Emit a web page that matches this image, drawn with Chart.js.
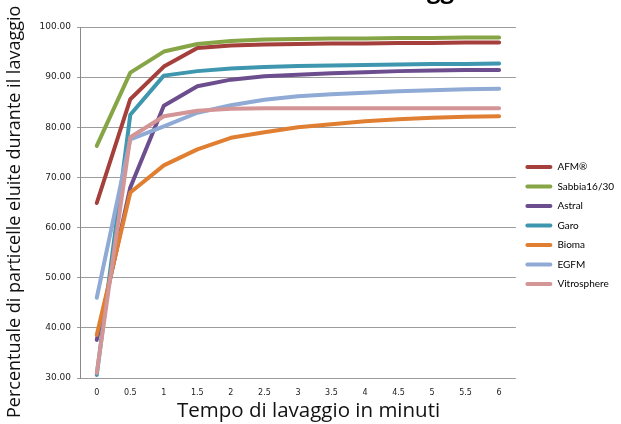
<!DOCTYPE html>
<html>
<head>
<meta charset="utf-8">
<script src="https://cdn.jsdelivr.net/npm/chart.js@4/dist/chart.umd.min.js"></script>
<style>
  html, body { margin: 0; padding: 0; background: #fff; }
  #wrap { width: 621px; height: 424px; position: relative; }
</style>
</head>
<body>
<div id="wrap"><canvas id="c" width="621" height="424"></canvas></div>
<script>
// Washing time (minutes)
const minutes = ['0', '0.5', '1', '1.5', '2', '2.5', '3', '3.5', '4', '4.5', '5', '5.5', '6'];

// Percentage of particles eluted, one array per filter medium
const afm         = [64.9, 85.6, 92.1, 95.8, 96.3, 96.5, 96.6, 96.7, 96.7, 96.8, 96.8, 96.9, 96.9];
const sabbia1630  = [76.3, 90.9, 95.1, 96.6, 97.2, 97.5, 97.6, 97.7, 97.7, 97.8, 97.8, 97.9, 97.9];
const astral      = [37.6, 68.0, 84.3, 88.2, 89.5, 90.2, 90.5, 90.8, 91.0, 91.2, 91.3, 91.4, 91.4];
const garo        = [30.6, 82.5, 90.3, 91.2, 91.7, 92.0, 92.2, 92.3, 92.4, 92.5, 92.6, 92.6, 92.7];
const bioma       = [38.6, 67.0, 72.4, 75.6, 77.9, 79.0, 80.0, 80.6, 81.2, 81.6, 81.9, 82.1, 82.2];
const egfm        = [46.0, 77.6, 80.2, 82.9, 84.4, 85.5, 86.2, 86.6, 86.9, 87.2, 87.4, 87.6, 87.7];
const vitrosphere = [31.0, 78.0, 82.2, 83.3, 83.7, 83.8, 83.8, 83.8, 83.8, 83.8, 83.8, 83.8, 83.8];

const seriesNames = ['AFM®', 'Sabbia16/30', 'Astral', 'Garo', 'Bioma', 'EGFM', 'Vitrosphere'];
const seriesData  = [afm, sabbia1630, astral, garo, bioma, egfm, vitrosphere];
const seriesColors = ['#A53F3C', '#86A546', '#6C4E8E', '#3E97AE', '#E07F31', '#8FAAD5', '#D49597'];

// y-axis tick range
const yMin = 30, yMax = 100, yStep = 10;

const titleText = 'Efficacia del controlavaggio';

// Chart title sits above the canvas top; only its descenders show
const topTitle = {
  id: 'topTitle',
  afterDraw(chart) {
    const ctx = chart.ctx;
    ctx.save();
    ctx.font = 'bold 24px "Open Sans", sans-serif';
    ctx.fillStyle = '#000';
    ctx.textBaseline = 'alphabetic';
    const pre = ctx.measureText('Efficacia del controlava').width;
    ctx.fillText(titleText, 427 - pre, -2);
    ctx.restore();
  }
};

const nb = '\u00A0';

new Chart(document.getElementById('c'), {
  type: 'line',
  data: {
    labels: minutes,
    datasets: seriesNames.map((name, i) => ({
      label: name,
      data: seriesData[i],
      borderColor: seriesColors[i],
      backgroundColor: seriesColors[i],
      borderWidth: 4,
      borderCapStyle: 'round',
      borderJoinStyle: 'round',
      pointRadius: 0,
      tension: 0,
      fill: false,
      order: -i
    }))
  },
  options: {
    responsive: false,
    animation: false,
    layout: { padding: { top: 27, right: -3, bottom: 0, left: 0 } },
    plugins: {
      tooltip: { enabled: false },
      legend: {
        position: 'right',
        align: 'center',
        labels: {
          boxWidth: 27,
          boxHeight: 4,
          padding: 9.5,
          color: '#222',
          font: { family: 'Lato, "Open Sans", sans-serif', size: 10 },
          useBorderRadius: true,
          borderRadius: 2,
          generateLabels(chart) {
            return chart.data.datasets.map((ds, i) => ({
              text: ds.label,
              fillStyle: ds.borderColor,
              strokeStyle: ds.borderColor,
              lineWidth: 0,
              hidden: false,
              datasetIndex: i,
              borderRadius: 2
            }));
          }
        }
      }
    },
    scales: {
      x: {
        type: 'category',
        offset: true,
        afterFit: s => { s.height = 46; },
        grid: { display: false, drawTicks: false },
        border: { display: false },
        ticks: {
          color: '#222',
          font: { family: '"DejaVu Sans", sans-serif', size: 8 },
          padding: 10,
          maxRotation: 0
        },
        title: {
          display: true,
          text: nb.repeat(4) + 'Tempo di lavaggio in minuti',
          color: '#111',
          font: { family: '"Open Sans", sans-serif', size: 20.5 },
          padding: { top: 1, bottom: 1 }
        }
      },
      y: {
        min: yMin,
        max: yMax,
        afterFit: s => { s.width = 80; },
        ticks: {
          stepSize: yStep,
          color: '#222',
          font: { family: '"DejaVu Sans", sans-serif', size: 9 },
          padding: 6,
          callback: v => Number(v).toFixed(2)
        },
        grid: { color: '#9c9c9c', lineWidth: 1, tickLength: 3, drawTicks: true },
        border: { display: true, color: '#8a8a8a', width: 1 },
        title: {
          display: true,
          text: 'Percentuale di particelle eluite durante il lavaggio' + nb.repeat(4),
          color: '#111',
          font: { family: '"Open Sans", sans-serif', size: 18 },
          padding: { top: 4, bottom: 4 }
        }
      }
    }
  },
  plugins: [topTitle]
});
</script>
</body>
</html>
